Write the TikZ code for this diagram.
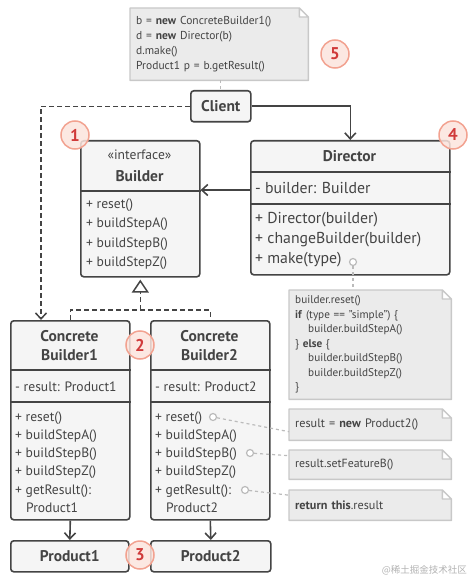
\documentclass[tikz,border=0pt]{standalone}
\usepackage{fontspec}
\setmainfont{PT Sans}
\newfontfamily\cjk{Noto Sans CJK SC}
\usetikzlibrary{arrows.meta,backgrounds}
\definecolor{ink}{HTML}{444444}
\definecolor{boxfill}{HTML}{F5F5F5}
\definecolor{notefill}{HTML}{EBEBEB}
\definecolor{noteline}{HTML}{C8C8C8}
\definecolor{badgefill}{HTML}{FCE4DD}
\definecolor{badgeline}{HTML}{F2A290}
\definecolor{badgetext}{HTML}{D03A3A}
\definecolor{hintgray}{HTML}{BBBBBB}
\tikzstyle{umlbox}=[draw=ink,line width=1.6pt,fill=boxfill,rounded corners=3pt,
anchor=north west,inner sep=0pt,font=\fontsize{15.5}{19}\selectfont\bfseries]
\tikzstyle{title}=[align=center,inner sep=0pt,font=\fontsize{15.5}{19}\selectfont\bfseries]
\tikzstyle{member}=[anchor=west,align=left,inner sep=0pt,font=\fontsize{13.6}{19.4}\selectfont]
\tikzstyle{divider}=[draw=ink,line width=1.6pt]
\tikzstyle{note}=[anchor=north west,align=left,inner xsep=6pt,inner ysep=0pt,
font=\fontsize{11.2}{14.5}\selectfont]
\tikzstyle{notepaper}=[fill=notefill,draw=noteline,line width=1.4pt,line join=round]
\tikzstyle{badge}=[circle,fill=badgefill,fill opacity=0.85,text opacity=1,draw=badgeline,
line width=1.5pt,minimum size=28pt,inner sep=0pt,text=badgetext,font=\fontsize{17}{17}\selectfont\bfseries]
\tikzstyle{hintdot}=[circle,draw=hintgray,fill=white,line width=1.2pt,minimum size=7pt,inner sep=0pt]
\tikzstyle{hint}=[draw=hintgray,line width=1.2pt,dash pattern=on 3pt off 3pt]
\tikzstyle{assoc}=[draw=ink,line width=1.6pt,->]
\tikzstyle{dep}=[draw=ink,line width=1.5pt,dash pattern=on 5pt off 3pt,->]
\tikzstyle{realize}=[draw=ink,line width=1.5pt,dash pattern=on 5pt off 3pt]

\begin{document}
\begin{tikzpicture}[x=1pt,y=-1pt,text=ink,>={Straight Barb[length=6pt,width=11pt]}]
            \useasboundingbox (0,0) rectangle (470,580);

            % CLIENT PART

            \node[umlbox,minimum width=60pt,minimum height=31pt] (client) at (190,90) {Client};
            \node[note,text width=166pt,minimum height=72pt,font=\fontsize{11.5}{15}\selectfont] (note5) at (130,8)
                {b = \textbf{new} ConcreteBuilder1()\\d = \textbf{new} Director(b)\\d.make()\\Product1 p = b.getResult()};

            % BUILDER PART

            \node[umlbox,minimum width=119pt,minimum height=136pt] (builder) at (80,140) {};
            \node[align=center,inner sep=0pt,font=\fontsize{13.6}{22}\selectfont] (builderhead) at (139.5,166)
                {«interface»\\\textbf{\fontsize{15.5}{22}\selectfont Builder}};
            \draw[divider] (builder.west |- 0,191) -- (builder.east |- 0,191);
            \node[member] (buildermeth) at (86,234)
                {+ reset()\\+ buildStepA()\\+ buildStepB()\\+ buildStepZ()};

            % DIRECTOR PART

            \node[umlbox,minimum width=199pt,minimum height=134pt] (director) at (250,140) {};
            \node[title] (directorhead) at (349.5,156) {Director};
            \draw[divider] (director.west |- 0,172) -- (director.east |- 0,172);
            \node[member,font=\fontsize{15.8}{20}\selectfont] (directorattr) at (255,188) {- builder: Builder};
            \draw[divider] (director.west |- 0,204) -- (director.east |- 0,204);
            \node[member,font=\fontsize{15.8}{20}\selectfont] (directormeth) at (255,240)
                {+ Director(builder)\\+ changeBuilder(builder)\\+ make(type)};
            \node[hintdot] (makedot) at (353,262) {};
            \node[note,text width=150pt,minimum height=109pt] (notemake) at (289,290)
                {builder.reset()\\\textbf{if} (type == "simple") \{\\\hspace*{13pt}builder.buildStepA()\\
                 \} \textbf{else} \{\\\hspace*{13pt}builder.buildStepB()\\\hspace*{13pt}builder.buildStepZ()\\\}};

            % CONCRETE BUILDERS PART

            \node[umlbox,minimum width=119pt,minimum height=199pt] (cb1) at (10,320) {};
            \node[title] (cb1head) at (69.5,345.5) {Concrete\\Builder1};
            \draw[divider] (cb1.west |- 0,370) -- (cb1.east |- 0,370);
            \node[member] (cb1attr) at (15,387) {- result: Product1};
            \draw[divider] (cb1.west |- 0,402) -- (cb1.east |- 0,402);
            \node[member,font=\fontsize{13.6}{18.2}\selectfont] (cb1meth) at (15,462)
                {+ reset()\\+ buildStepA()\\+ buildStepB()\\+ buildStepZ()\\+ getResult():\\\hspace*{11pt}Product1};

            \node[umlbox,minimum width=119pt,minimum height=199pt] (cb2) at (150,320) {};
            \node[title] (cb2head) at (209.5,345.5) {Concrete\\Builder2};
            \draw[divider] (cb2.west |- 0,370) -- (cb2.east |- 0,370);
            \node[member] (cb2attr) at (155,387) {- result: Product2};
            \draw[divider] (cb2.west |- 0,402) -- (cb2.east |- 0,402);
            \node[member,font=\fontsize{13.6}{18.2}\selectfont] (cb2meth) at (155,462)
                {+ reset()\\+ buildStepA()\\+ buildStepB()\\+ buildStepZ()\\+ getResult():\\\hspace*{11pt}Product2};

            \node[hintdot] (resetdot) at (213,417) {};
            \node[hintdot] (stepbdot) at (250,453) {};
            \node[hintdot] (resultdot) at (245,490) {};
            \node[note,text width=150pt,minimum height=31pt,font=\fontsize{12.2}{14.5}\selectfont] (notea) at (289,409) {result = \textbf{new} Product2()};
            \node[note,text width=150pt,minimum height=29pt,font=\fontsize{11.8}{14.5}\selectfont] (noteb) at (289,450) {result.setFeatureB()};
            \node[note,text width=150pt,minimum height=30pt,font=\fontsize{12.2}{14.5}\selectfont] (notec) at (289,490) {\textbf{return this}.result};

            % PRODUCTS PART

            \node[umlbox,minimum width=118pt,minimum height=31pt] (product1) at (10,540) {Product1};
            \node[umlbox,minimum width=120pt,minimum height=31pt] (product2) at (150,540) {Product2};

            % Note papers

            \begin{scope}[on background layer]
            \foreach \n in {note5,notemake,notea,noteb,notec}
                \filldraw[notepaper] (\n.south west) -- (\n.north west) -- ([xshift=-9pt]\n.north east)
                    -- ([yshift=-9pt]\n.north east) -- (\n.south east) -- cycle
                    ([xshift=-9pt]\n.north east) |- ([yshift=-9pt]\n.north east);
            \end{scope}

            % Connections

            \draw[hint] (client.north |- note5.south) -- (client.north);
            \draw[dep] (client.west) -| ([xshift=31pt]cb1.north west);
            \draw[assoc] (client.east) -| (director.north);
            \draw[assoc] (director.west |- 0,190) -- (builder.east |- 0,190);
            \draw[realize] (cb1.north) |- (cb2.north |- 0,310) -- (cb2.north);
            \draw[realize,shorten >=2pt,-{Triangle[open,length=13pt,width=17pt,fill=white]}]
                (builder.south |- 0,310) -- (builder.south);
            \draw[assoc] (cb1.south) -- (product1.north);
            \draw[assoc] (cb2.south) -- (product2.north);
            \draw[hint] (makedot) -- (makedot |- notemake.north);
            \draw[hint] (resetdot) -- ([yshift=-7pt]notea.west);
            \draw[hint] (stepbdot) -- ([yshift=9pt]noteb.west);
            \draw[hint] (resultdot) -- ([yshift=10pt]notec.west);

            % Numbers

            \node[badge] (num1) at (75,135) {1};
            \node[badge] (num2) at (140,345) {2};
            \node[badge] (num3) at (140,555) {3};
            \node[badge] (num4) at (453,135) {4};
            \node[badge] (num5) at (335,54) {5};

            \node[anchor=east,inner sep=0pt,text=black!30,font=\cjk\fontsize{9.5}{10}\selectfont] (mark) at (467,570) {@稀土掘金技术社区};

        \end{tikzpicture}
\end{document}
